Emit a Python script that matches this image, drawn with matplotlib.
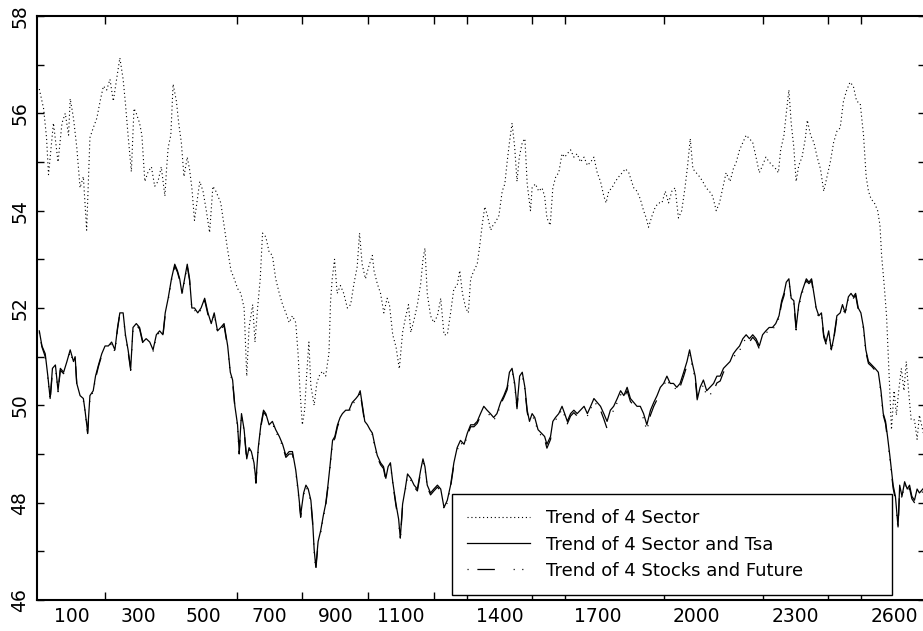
import numpy as np
import matplotlib
matplotlib.use("Agg")
from matplotlib import pyplot as plt
from matplotlib.ticker import FixedLocator, NullFormatter

# trading day index and values of the 4-sector trend (dotted, upper curve)
t_sector = [
    0, 13, 22, 28, 43, 57, 69, 79, 89, 94,
    104, 114, 124, 134, 144, 154, 164, 175, 185, 195,
    205, 215, 225, 235, 245, 255, 262, 270, 280, 288,
    295, 305, 312, 321, 331, 341, 351, 361, 371, 382,
    387, 392, 400, 407, 417, 424, 432, 440, 450, 457,
    464, 472, 480, 488, 498, 508, 518, 528, 537, 552,
    564, 572, 583, 593, 603, 613, 623, 631, 638, 649,
    656, 664, 672, 679, 689, 699, 709, 719, 730, 740,
    750, 760, 770, 780, 787, 793, 800, 807, 813, 820,
    826, 836, 844, 851, 861, 871, 881, 886, 891, 898,
    906, 916, 926, 937, 947, 957, 967, 974, 982, 992,
    1002, 1013, 1018, 1028, 1038, 1048, 1058, 1065, 1075, 1085,
    1095, 1105, 1115, 1123, 1130, 1140, 1150, 1160, 1167, 1173,
    1180, 1190, 1200, 1211, 1221, 1231, 1241, 1251, 1261, 1271,
    1279, 1287, 1297, 1305, 1312, 1322, 1332, 1340, 1347, 1355,
    1363, 1373, 1380, 1388, 1398, 1408, 1416, 1423, 1430, 1438,
    1446, 1453, 1460, 1469, 1477, 1484, 1494, 1499, 1509, 1519,
    1529, 1537, 1544, 1554, 1562, 1571, 1580, 1590, 1598, 1606,
    1616, 1626, 1636, 1646, 1657, 1667, 1677, 1687, 1697, 1707,
    1717, 1724, 1732, 1742, 1752, 1763, 1773, 1783, 1793, 1808,
    1818, 1828, 1838, 1846, 1853, 1864, 1874, 1884, 1894, 1904,
    1914, 1924, 1934, 1944, 1954, 1964, 1972, 1980, 1988, 1998,
    2008, 2018, 2028, 2038, 2048, 2059, 2069, 2079, 2089, 2101,
    2111, 2120, 2130, 2140, 2150, 2160, 2170, 2180, 2190, 2200,
    2210, 2220, 2230, 2240, 2248, 2255, 2265, 2272, 2280, 2287,
    2295, 2302, 2310, 2320, 2330, 2336, 2346, 2356, 2366, 2376,
    2386, 2396, 2406, 2416, 2426, 2436, 2446, 2456, 2466, 2476,
    2486, 2497, 2507, 2515, 2522, 2530, 2540, 2550, 2557, 2562,
    2570, 2577, 2582, 2587, 2592, 2600, 2607, 2614, 2622, 2630,
    2637, 2644, 2652, 2662, 2670, 2677, 2690,
]
sector = [
    56.5, 56.1, 55.5, 54.74, 55.8, 55.0, 55.8, 56.0, 55.55, 56.3,
    55.9, 55.3, 54.47, 54.7, 53.6, 55.5, 55.7, 55.9, 56.25, 56.56,
    56.48, 56.7, 56.25, 56.7, 57.14, 56.7, 56.2, 55.55, 54.8, 56.1,
    56.0, 55.8, 55.55, 54.6, 54.8, 54.9, 54.5, 54.6, 54.9, 54.3,
    54.85, 55.3, 55.55, 56.6, 56.25, 55.8, 55.4, 54.7, 55.1, 54.85,
    54.47, 53.8, 54.2, 54.6, 54.4, 54.0, 53.55, 54.5, 54.4, 54.16,
    53.6, 53.23, 52.77, 52.6, 52.4, 52.3, 52.0, 50.6, 51.6, 52.07,
    51.3, 52.0, 52.6, 53.54, 53.46, 53.15, 53.08, 52.6, 52.3, 52.07,
    51.9, 51.7, 51.84, 51.7, 51.07, 50.3, 49.6, 49.9, 50.6, 51.3,
    50.4, 50.0, 50.45, 50.6, 50.7, 50.6, 51.07, 52.15, 52.6, 53.0,
    52.3, 52.46, 52.3, 52.0, 52.07, 52.5, 52.85, 53.54, 52.9, 52.6,
    52.85, 53.08, 52.77, 52.5, 52.3, 51.9, 52.2, 52.07, 51.45, 51.2,
    50.75, 51.5, 51.84, 52.07, 51.5, 51.76, 52.07, 52.5, 53.0, 53.23,
    52.3, 51.84, 51.7, 51.84, 52.2, 51.45, 51.45, 51.9, 52.4, 52.46,
    52.77, 52.3, 52.0, 51.9, 52.6, 52.77, 52.9, 53.3, 53.7, 54.08,
    53.9, 53.6, 53.7, 53.77, 53.9, 54.4, 54.55, 55.0, 55.4, 55.8,
    55.3, 54.6, 55.1, 55.4, 55.48, 54.55, 54.0, 54.47, 54.55, 54.4,
    54.47, 54.3, 53.85, 53.7, 54.47, 54.7, 54.78, 55.17, 55.1, 55.17,
    55.25, 55.1, 55.17, 55.0, 55.1, 54.93, 55.0, 55.1, 54.78, 54.6,
    54.3, 54.16, 54.4, 54.47, 54.6, 54.7, 54.78, 54.86, 54.78, 54.47,
    54.4, 54.24, 54.0, 53.85, 53.66, 53.9, 54.08, 54.16, 54.16, 54.4,
    54.16, 54.4, 54.47, 53.85, 54.0, 54.47, 54.93, 55.48, 54.86, 54.78,
    54.7, 54.6, 54.47, 54.4, 54.3, 54.0, 54.16, 54.47, 54.78, 54.6,
    54.86, 55.0, 55.25, 55.4, 55.55, 55.48, 55.4, 55.1, 54.78, 54.93,
    55.1, 55.0, 54.93, 54.86, 54.78, 55.25, 55.55, 56.0, 56.48, 55.8,
    55.3, 54.6, 54.93, 55.1, 55.48, 55.86, 55.55, 55.4, 55.1, 54.86,
    54.4, 54.7, 55.0, 55.4, 55.63, 55.7, 56.25, 56.48, 56.64, 56.56,
    56.25, 56.2, 55.55, 54.7, 54.4, 54.24, 54.16, 54.0, 53.7, 53.08,
    52.46, 51.84, 51.07, 50.3, 49.5, 50.3, 49.8, 50.3, 50.76, 50.3,
    50.9, 50.3, 49.7, 49.7, 49.3, 49.8, 49.4,
]

# trading day index shared by the two lower curves
t_lower = [
    0, 8, 18, 26, 33, 40, 49, 57, 64, 74,
    84, 94, 104, 109, 114, 124, 134, 139, 147, 154,
    164, 171, 180, 190, 200, 210, 220, 230, 238, 245,
    255, 262, 270, 278, 285, 295, 305, 315, 325, 336,
    346, 356, 366, 376, 383, 392, 402, 412, 420, 427,
    434, 442, 450, 457, 464, 472, 482, 492, 503, 513,
    523, 532, 542, 552, 562, 573, 581, 588, 595, 603,
    608, 615, 623, 631, 638, 645, 653, 659, 666, 674,
    682, 689, 699, 709, 719, 730, 740, 750, 760, 770,
    780, 787, 795, 804, 811, 818, 826, 831, 836, 841,
    848, 856, 864, 871, 878, 884, 892, 899, 907, 915,
    922, 932, 942, 952, 963, 970, 976, 983, 990, 998,
    1006, 1013, 1020, 1028, 1038, 1047, 1054, 1061, 1068, 1075,
    1085, 1093, 1098, 1105, 1113, 1120, 1130, 1140, 1150, 1160,
    1167, 1173, 1180, 1190, 1200, 1211, 1221, 1231, 1241, 1251,
    1261, 1271, 1281, 1292, 1302, 1312, 1322, 1332, 1342, 1352,
    1362, 1372, 1382, 1392, 1403, 1413, 1423, 1430, 1438, 1446,
    1453, 1461, 1469, 1477, 1484, 1491, 1499, 1507, 1517, 1527,
    1537, 1544, 1555, 1562, 1570, 1580, 1590, 1598, 1606, 1616,
    1626, 1636, 1646, 1657, 1667, 1677, 1687, 1697, 1707, 1717,
    1727, 1737, 1747, 1758, 1768, 1778, 1788, 1798, 1808, 1818,
    1828, 1838, 1848, 1859, 1869, 1879, 1889, 1899, 1909, 1919,
    1929, 1939, 1949, 1960, 1970, 1978, 1985, 1995, 2002, 2010,
    2020, 2030, 2040, 2051, 2061, 2071, 2081, 2091, 2101, 2111,
    2121, 2130, 2140, 2150, 2160, 2170, 2180, 2190, 2200, 2210,
    2220, 2230, 2240, 2250, 2258, 2265, 2272, 2280, 2287, 2295,
    2302, 2310, 2318, 2326, 2333, 2341, 2349, 2356, 2363, 2371,
    2379, 2386, 2393, 2401, 2409, 2416, 2426, 2436, 2443, 2451,
    2461, 2469, 2476, 2483, 2491, 2499, 2507, 2514, 2522, 2532,
    2542, 2552, 2560, 2567, 2574, 2580, 2587, 2592, 2597, 2604,
    2612, 2617, 2624, 2632, 2640, 2647, 2654, 2662, 2670, 2677,
    2690,
]
# 4 sectors plus Tsa (solid)
sector_tsa = [
    51.53, 51.22, 51.06, 50.6, 50.14, 50.76, 50.83, 50.3, 50.76, 50.68,
    50.9, 51.14, 50.9, 51.0, 50.45, 50.2, 50.14, 49.9, 49.45, 50.2,
    50.3, 50.6, 50.83, 51.06, 51.22, 51.22, 51.3, 51.14, 51.6, 51.9,
    51.9, 51.45, 51.14, 50.76, 51.6, 51.68, 51.6, 51.3, 51.37, 51.3,
    51.14, 51.45, 51.53, 51.45, 51.9, 52.2, 52.6, 52.9, 52.77, 52.6,
    52.3, 52.6, 52.9, 52.6, 52.0, 52.0, 51.9, 52.0, 52.2, 51.9,
    51.68, 51.9, 51.53, 51.6, 51.68, 51.22, 50.68, 50.52, 49.98, 49.6,
    49.05, 49.83, 49.5, 48.9, 49.13, 49.05, 48.82, 48.45, 49.13, 49.6,
    49.9, 49.83, 49.6, 49.67, 49.5, 49.36, 49.2, 48.97, 49.05, 49.05,
    48.67, 48.28, 47.75, 48.2, 48.36, 48.28, 48.05, 47.66, 47.04, 46.68,
    47.2, 47.43, 47.74, 47.97, 48.36, 48.74, 49.28, 49.36, 49.6, 49.75,
    49.83, 49.9, 49.9, 50.06, 50.14, 50.2, 50.3, 49.98, 49.67, 49.6,
    49.5, 49.43, 49.2, 48.97, 48.82, 48.74, 48.5, 48.74, 48.82, 48.43,
    47.97, 47.66, 47.27, 47.97, 48.28, 48.59, 48.5, 48.36, 48.28, 48.67,
    48.9, 48.74, 48.36, 48.2, 48.28, 48.36, 48.28, 47.9, 48.05, 48.36,
    48.82, 49.13, 49.28, 49.2, 49.43, 49.6, 49.6, 49.67, 49.83, 49.98,
    49.9, 49.83, 49.75, 49.83, 50.06, 50.2, 50.37, 50.68, 50.76, 50.45,
    49.98, 50.6, 50.68, 50.37, 49.9, 49.67, 49.83, 49.75, 49.5, 49.43,
    49.36, 49.2, 49.36, 49.67, 49.75, 49.83, 49.98, 49.83, 49.67, 49.83,
    49.9, 49.83, 49.9, 49.98, 49.83, 49.98, 50.14, 50.06, 49.98, 49.83,
    49.67, 49.9, 49.98, 50.14, 50.3, 50.2, 50.37, 50.14, 50.06, 49.98,
    49.98, 49.83, 49.6, 49.9, 50.06, 50.2, 50.37, 50.45, 50.6, 50.45,
    50.45, 50.37, 50.45, 50.68, 50.9, 51.14, 50.9, 50.6, 50.14, 50.37,
    50.52, 50.3, 50.37, 50.45, 50.6, 50.6, 50.76, 50.83, 50.9, 51.06,
    51.15, 51.22, 51.37, 51.45, 51.37, 51.45, 51.37, 51.22, 51.45, 51.53,
    51.6, 51.6, 51.68, 51.84, 52.15, 52.3, 52.53, 52.6, 52.2, 52.15,
    51.6, 52.07, 52.3, 52.46, 52.6, 52.53, 52.6, 52.3, 52.0, 51.84,
    51.9, 51.45, 51.3, 51.53, 51.14, 51.37, 51.84, 51.9, 52.07, 51.9,
    52.23, 52.3, 52.23, 52.3, 52.0, 51.9, 51.6, 51.14, 50.9, 50.83,
    50.76, 50.68, 50.3, 49.83, 49.67, 49.36, 48.97, 48.67, 48.36, 48.13,
    47.5, 48.36, 48.13, 48.43, 48.28, 48.36, 48.13, 48.05, 48.28, 48.2,
    48.3,
]
# 4 stocks plus future (dash-dot), runs almost on top of the solid curve
stocks_future = [
    51.5, 51.2, 51.0, 50.55, 50.1, 50.7, 50.8, 50.28, 50.72, 50.65,
    50.88, 51.1, 50.88, 50.98, 50.42, 50.18, 50.1, 49.88, 49.42, 50.15,
    50.28, 50.55, 50.8, 51.03, 51.2, 51.18, 51.27, 51.1, 51.57, 51.88,
    51.88, 51.42, 51.1, 50.72, 51.55, 51.65, 51.57, 51.27, 51.33, 51.27,
    51.1, 51.42, 51.5, 51.42, 51.86, 52.16, 52.57, 52.86, 52.74, 52.57,
    52.27, 52.56, 52.86, 52.57, 51.97, 51.96, 51.86, 51.97, 52.16, 51.86,
    51.64, 51.87, 51.5, 51.56, 51.64, 51.18, 50.64, 50.48, 49.94, 49.56,
    49.0, 49.8, 49.46, 48.86, 49.1, 49.0, 48.78, 48.4, 49.1, 49.56,
    49.86, 49.8, 49.56, 49.63, 49.46, 49.32, 49.16, 48.93, 49.0, 49.0,
    48.63, 48.24, 47.7, 48.16, 48.32, 48.24, 48.0, 47.6, 47.0, 46.62,
    47.15, 47.38, 47.7, 47.93, 48.32, 48.7, 49.24, 49.32, 49.56, 49.7,
    49.8, 49.86, 49.86, 50.02, 50.1, 50.16, 50.26, 49.94, 49.63, 49.56,
    49.46, 49.4, 49.16, 48.93, 48.78, 48.7, 48.46, 48.7, 48.78, 48.4,
    47.93, 47.62, 47.22, 47.93, 48.24, 48.55, 48.46, 48.32, 48.24, 48.63,
    48.86, 48.7, 48.32, 48.16, 48.24, 48.32, 48.24, 47.86, 48.0, 48.32,
    48.78, 49.08, 49.24, 49.16, 49.38, 49.56, 49.56, 49.63, 49.78, 49.93,
    49.86, 49.78, 49.7, 49.78, 50.02, 50.16, 50.32, 50.62, 50.72, 50.4,
    49.93, 50.55, 50.62, 50.32, 49.86, 49.62, 49.78, 49.7, 49.45, 49.38,
    49.3, 49.12, 49.3, 49.6, 49.7, 49.78, 49.93, 49.78, 49.62, 49.78,
    49.85, 49.78, 49.85, 49.93, 49.78, 49.93, 50.08, 50.0, 49.9, 49.72,
    49.52, 49.78, 49.9, 50.06, 50.22, 50.14, 50.3, 50.08, 50.0, 49.92,
    49.9, 49.72, 49.48, 49.8, 49.98, 50.12, 50.3, 50.4, 50.54, 50.4,
    50.4, 50.3, 50.38, 50.6, 50.82, 51.08, 50.84, 50.54, 50.06, 50.28,
    50.42, 50.18, 50.22, 50.3, 50.46, 50.5, 50.68, 50.76, 50.84, 51.0,
    51.05, 51.12, 51.28, 51.38, 51.3, 51.4, 51.32, 51.16, 51.4, 51.48,
    51.55, 51.56, 51.64, 51.8, 52.1, 52.25, 52.48, 52.56, 52.15, 52.1,
    51.55, 52.02, 52.25, 52.42, 52.56, 52.5, 52.56, 52.26, 51.96, 51.8,
    51.86, 51.4, 51.26, 51.5, 51.1, 51.33, 51.8, 51.86, 52.03, 51.86,
    52.2, 52.26, 52.2, 52.26, 51.96, 51.86, 51.56, 51.1, 50.86, 50.8,
    50.72, 50.64, 50.26, 49.8, 49.62, 49.3, 48.92, 48.62, 48.3, 48.06,
    47.45, 48.3, 48.08, 48.38, 48.22, 48.3, 48.08, 48.0, 48.22, 48.15,
    48.25,
]

labels = ['Trend of 4 Sector', 'Trend of 4 Sector and Tsa', 'Trend of 4 Stocks and Future']
xtick_marks = [200, 300, 500, 600, 700, 800, 900, 1000, 1100, 1200, 1300, 1400,
               1500, 1600, 1700, 1900, 2000, 2200, 2300, 2400, 2500, 2600]
xtick_labels = [100, 300, 500, 700, 900, 1100, 1400, 1700, 2000, 2300, 2600]
ytick_labels = [46, 48, 50, 52, 54, 56, 58]

plt.rcParams['font.family'] = ['DejaVu Sans']

fig = plt.figure(figsize=(9.23, 6.31), dpi=100)
ax = fig.add_axes([37 / 923, 31 / 631, 888 / 923, 584 / 631])

ax.plot(t_sector, sector, color='black', lw=0.8, linestyle=(0, (1, 2.5)), label=labels[0])
ax.plot(t_lower, sector_tsa, color='black', lw=0.9, linestyle='-', label=labels[1])
ax.plot(t_lower, stocks_future, color='black', lw=0.9,
        linestyle=(0, (0.9, 7, 14, 15, 0.9, 6, 0.9, 7)), label=labels[2])

ax.set_xlim(-7, 2694)
ax.set_ylim(46, 58)

# tick marks and labels do not line up on the x axis, so labels go on major
# ticks of zero length and the marks on minor ticks
ax.set_xticks(xtick_labels)
ax.set_xticklabels([str(v) for v in xtick_labels])
ax.xaxis.set_minor_locator(FixedLocator(xtick_marks))
ax.xaxis.set_minor_formatter(NullFormatter())
ax.tick_params(axis='x', which='major', length=0, pad=5, labelsize=13.5)
ax.tick_params(axis='x', which='minor', direction='in', length=6, width=1,
               top=True, bottom=True)

ax.set_yticks(ytick_labels)
ax.set_yticklabels([str(v) for v in ytick_labels], rotation=90, va='center')
ax.yaxis.set_minor_locator(FixedLocator(np.arange(47, 58, 2)))
ax.tick_params(axis='y', which='both', direction='in', length=5, width=1,
               left=True, right=True, labelsize=13.5, pad=5.5)

for side in ['left', 'top', 'bottom', 'right']:
    ax.spines[side].set_linewidth(1.5)

leg = ax.legend(loc='lower left', bbox_to_anchor=(0.467, 0.0086, 0.496, 0.171),
                mode='expand', fancybox=False, framealpha=1, edgecolor='black',
                fontsize=13, handlelength=3.5, handletextpad=0.85,
                borderpad=0.85, labelspacing=0.45, borderaxespad=0)
leg.get_frame().set_linewidth(1.0)

plt.savefig('out.png', dpi=100)
